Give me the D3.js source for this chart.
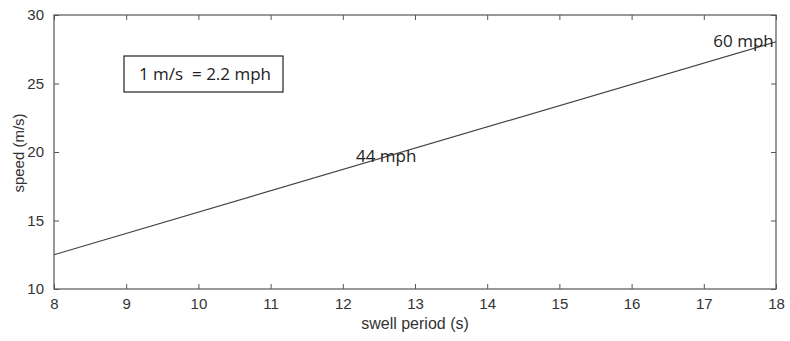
<!DOCTYPE html>
<html>
<head>
<meta charset="utf-8">
<script src="https://cdn.jsdelivr.net/npm/d3@7"></script>
<style>
  body { margin: 0; background: #fff; }
  text { font-family: "Liberation Sans", Arial, sans-serif; }
</style>
</head>
<body>
<script>
// data
var period = [8, 18];
var speed = [12.5, 28.05];
var xTicks = [8, 9, 10, 11, 12, 13, 14, 15, 16, 17, 18];
var yTicks = [10, 15, 20, 25, 30];
var notes = [
  { label: "44 mph", x: 12.6, y: 19.25 },
  { label: "60 mph", x: 17.55, y: 27.7 }
];
var boxText = "1 m/s  = 2.2 mph";

var width = 790, height = 341;
var plotLeft = 54, plotRight = 776, plotTop = 15, plotBottom = 289;

var xscale = d3.scaleLinear().domain([8, 18]).range([plotLeft, plotRight]);
var yscale = d3.scaleLinear().domain([10, 30]).range([plotBottom, plotTop]);

var svg = d3.select("body").append("svg")
    .attr("width", width)
    .attr("height", height);

var axisColor = "#555";

// frame
svg.append("rect")
  .attr("x", plotLeft).attr("y", plotTop)
  .attr("width", plotRight - plotLeft).attr("height", plotBottom - plotTop)
  .attr("fill", "none").attr("stroke", axisColor).attr("stroke-width", 1.2);

// axes with inward ticks
function styleAxis(g) {
  g.attr("font-family", "'Liberation Sans', Arial, sans-serif").attr("font-size", 15);
  g.select(".domain").remove();
  g.selectAll(".tick line").attr("stroke", axisColor);
  g.selectAll(".tick text").attr("fill", "#333");
}

svg.append("g")
  .attr("transform", "translate(0," + plotBottom + ")")
  .call(d3.axisBottom(xscale).tickValues(xTicks).tickSizeInner(-5).tickSizeOuter(0).tickPadding(9))
  .call(styleAxis);

svg.append("g")
  .attr("transform", "translate(0," + plotTop + ")")
  .call(d3.axisTop(xscale).tickValues(xTicks).tickSizeInner(-5).tickSizeOuter(0).tickFormat(""))
  .call(styleAxis);

svg.append("g")
  .attr("transform", "translate(" + plotLeft + ",0)")
  .call(d3.axisLeft(yscale).tickValues(yTicks).tickSizeInner(-5).tickSizeOuter(0).tickPadding(10))
  .call(styleAxis);

svg.append("g")
  .attr("transform", "translate(" + plotRight + ",0)")
  .call(d3.axisRight(yscale).tickValues(yTicks).tickSizeInner(-5).tickSizeOuter(0).tickFormat(""))
  .call(styleAxis);

// axis titles
svg.append("text")
  .attr("x", (plotLeft + plotRight) / 2).attr("y", 329)
  .attr("text-anchor", "middle")
  .attr("fill", "#333")
  .style("font-size", "16px")
  .text("swell period (s)");

svg.append("text")
  .attr("transform", "translate(24,153) rotate(-90)")
  .attr("text-anchor", "middle")
  .attr("fill", "#333")
  .style("font-size", "15px")
  .text("speed (m/s)");

// speed line
var line = d3.line()
  .x(function(d, i) { return xscale(period[i]); })
  .y(function(d) { return yscale(d); });

svg.append("path")
  .datum(speed)
  .attr("d", line)
  .attr("fill", "none")
  .attr("stroke", "#444")
  .attr("stroke-width", 1.2);

// annotations
svg.selectAll(".note")
  .data(notes)
  .enter()
  .append("text")
  .attr("class", "note")
  .attr("x", function(d) { return xscale(d.x); })
  .attr("y", function(d) { return yscale(d.y); })
  .attr("text-anchor", "middle")
  .attr("fill", "#222")
  .style("font-family", "'Open Sans', sans-serif")
  .style("font-size", "17px")
  .text(function(d) { return d.label; });

// conversion box
svg.append("rect")
  .attr("x", 124).attr("y", 56)
  .attr("width", 159).attr("height", 36)
  .attr("fill", "#fff").attr("stroke", "#222").attr("stroke-width", 1.2);

svg.append("text")
  .attr("x", 205).attr("y", 80)
  .attr("text-anchor", "middle")
  .attr("fill", "#222")
  .style("font-family", "'Open Sans', sans-serif")
  .style("font-size", "17px")
  .style("white-space", "pre")
  .attr("xml:space", "preserve")
  .text(boxText);
</script>
</body>
</html>
